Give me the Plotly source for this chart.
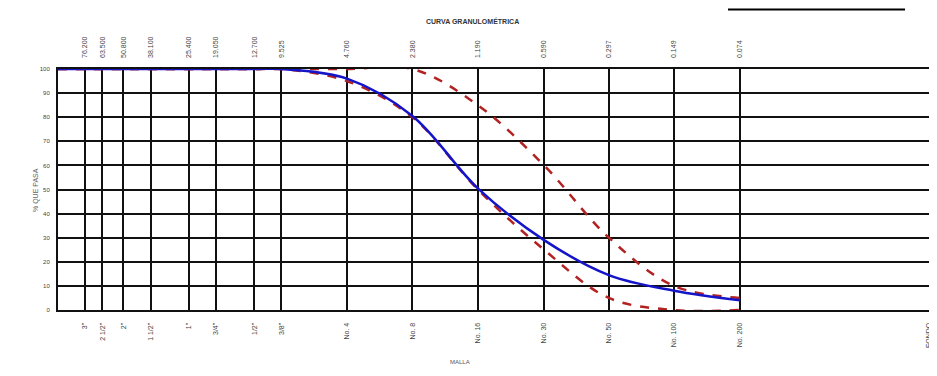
import math
import plotly.graph_objects as go

# ---- data ----
sieve_mm = [101.6, 76.2, 63.5, 50.8, 38.1, 25.4, 19.05, 12.7, 9.525,
            4.76, 2.38, 1.19, 0.59, 0.297, 0.149, 0.074]
sieve_names = ['4"', '3"', '2 1/2"', '2"', '1 1/2"', '1"', '3/4"', '1/2"', '3/8"',
               'No. 4', 'No. 8', 'No. 16', 'No. 30', 'No. 50', 'No. 100', 'No. 200']
top_labels = ['101.600', '76.200', '63.500', '50.800', '38.100', '25.400', '19.050', '12.700', '9.525',
              '4.760', '2.380', '1.190', '0.590', '0.297', '0.149', '0.074']
sample_pass = [100, 100, 100, 100, 100, 100, 100, 100, 100, 96, 80.5, 50.5, 29, 14.5, 8, 4]
upper_limit = [100, 100, 100, 100, 100, 100, 100, 100, 100, 100, 100, 85, 60, 30, 10, 5]
lower_limit = [100, 100, 100, 100, 100, 100, 100, 100, 100, 95, 80, 50, 25, 5, 0, 0]
pan_mm = 0.01
pan_label = 'FONDO'
y_ticks = list(range(0, 101, 10))

FONT = "Liberation Sans, Arial, sans-serif"
x_range = [math.log10(sieve_mm[0]), math.log10(pan_mm)]

# page body has an 8px margin: figure placed at (8, 8) in the window
OFF = 8
W, H = 937 - OFF, 376 - OFF
L, T, R, B = 58 - OFF, 69 - OFF, 8, 376 - 310
PW, PH = W - L - R, H - T - B


def px_x(x):  # window px -> paper
    return (x - OFF - L) / PW


def px_y(y):  # window px -> paper
    return 1 - (y - OFF - T) / PH


fig = go.Figure()
fig.add_trace(go.Scatter(x=sieve_mm, y=upper_limit, mode='lines',
                         line=dict(color='#B22222', width=2.5, dash='dash', shape='spline'),
                         name='Límite superior'))
fig.add_trace(go.Scatter(x=sieve_mm, y=lower_limit, mode='lines',
                         line=dict(color='#B22222', width=2.5, dash='dash', shape='spline'),
                         name='Límite inferior'))
fig.add_trace(go.Scatter(x=sieve_mm, y=sample_pass, mode='lines',
                         line=dict(color='#1414C8', width=2.5, shape='spline'), name='Muestra'))
# invisible trace to activate the top axis
fig.add_trace(go.Scatter(x=sieve_mm, y=sample_pass, xaxis='x2', mode='lines',
                         line=dict(width=0), opacity=0, showlegend=False, hoverinfo='skip'))

fig.update_layout(
    width=W, height=H,
    margin=dict(l=L, r=R, t=T, b=B, autoexpand=False),
    paper_bgcolor='white', plot_bgcolor='white',
    showlegend=False,
    font=dict(family=FONT, size=7, color='#555'),
    xaxis=dict(type='log', range=x_range,
               tickvals=sieve_mm[1:] + [pan_mm], ticktext=sieve_names[1:] + [pan_label],
               tickangle=-90, ticks='', ticklabelstandoff=8,
               showgrid=True, gridcolor='#111', gridwidth=2,
               showline=True, linecolor='#111', linewidth=2, mirror=True,
               zeroline=False, tickfont=dict(size=7, color='#444')),
    xaxis2=dict(type='log', range=x_range, overlaying='x', side='top',
                tickvals=sieve_mm[1:], ticktext=top_labels[1:],
                tickangle=-90, ticks='', ticklabelstandoff=10,
                showgrid=False, showline=False, zeroline=False,
                tickfont=dict(size=7, color='#444')),
    yaxis=dict(range=[0, 100], tickvals=y_ticks, ticks='',
               showgrid=True, gridcolor='#111', gridwidth=2,
               showline=True, linecolor='#111', linewidth=2, mirror=True,
               zeroline=False, ticklabelstandoff=5,
               tickfont=dict(size=6, color='#444')),
)

fig.add_annotation(text='<b>CURVA GRANULOMÉTRICA</b>', xref='paper', yref='paper',
                   x=px_x(472), y=px_y(15), showarrow=False,
                   font=dict(size=7, color='#333'))
fig.add_annotation(text='% QUE PASA', xref='paper', yref='paper', textangle=-90,
                   x=px_x(30), y=px_y(190), showarrow=False,
                   font=dict(size=7, color='#666'))
fig.add_annotation(text='MALLA', xref='paper', yref='paper',
                   x=px_x(460), y=px_y(367), showarrow=False,
                   font=dict(size=6, color='#555'))
fig.add_shape(type='line', xref='paper', yref='paper',
              x0=px_x(728), x1=px_x(905), y0=px_y(9.5), y1=px_y(9.5),
              line=dict(color='black', width=2))

fig.write_html("out.html")
